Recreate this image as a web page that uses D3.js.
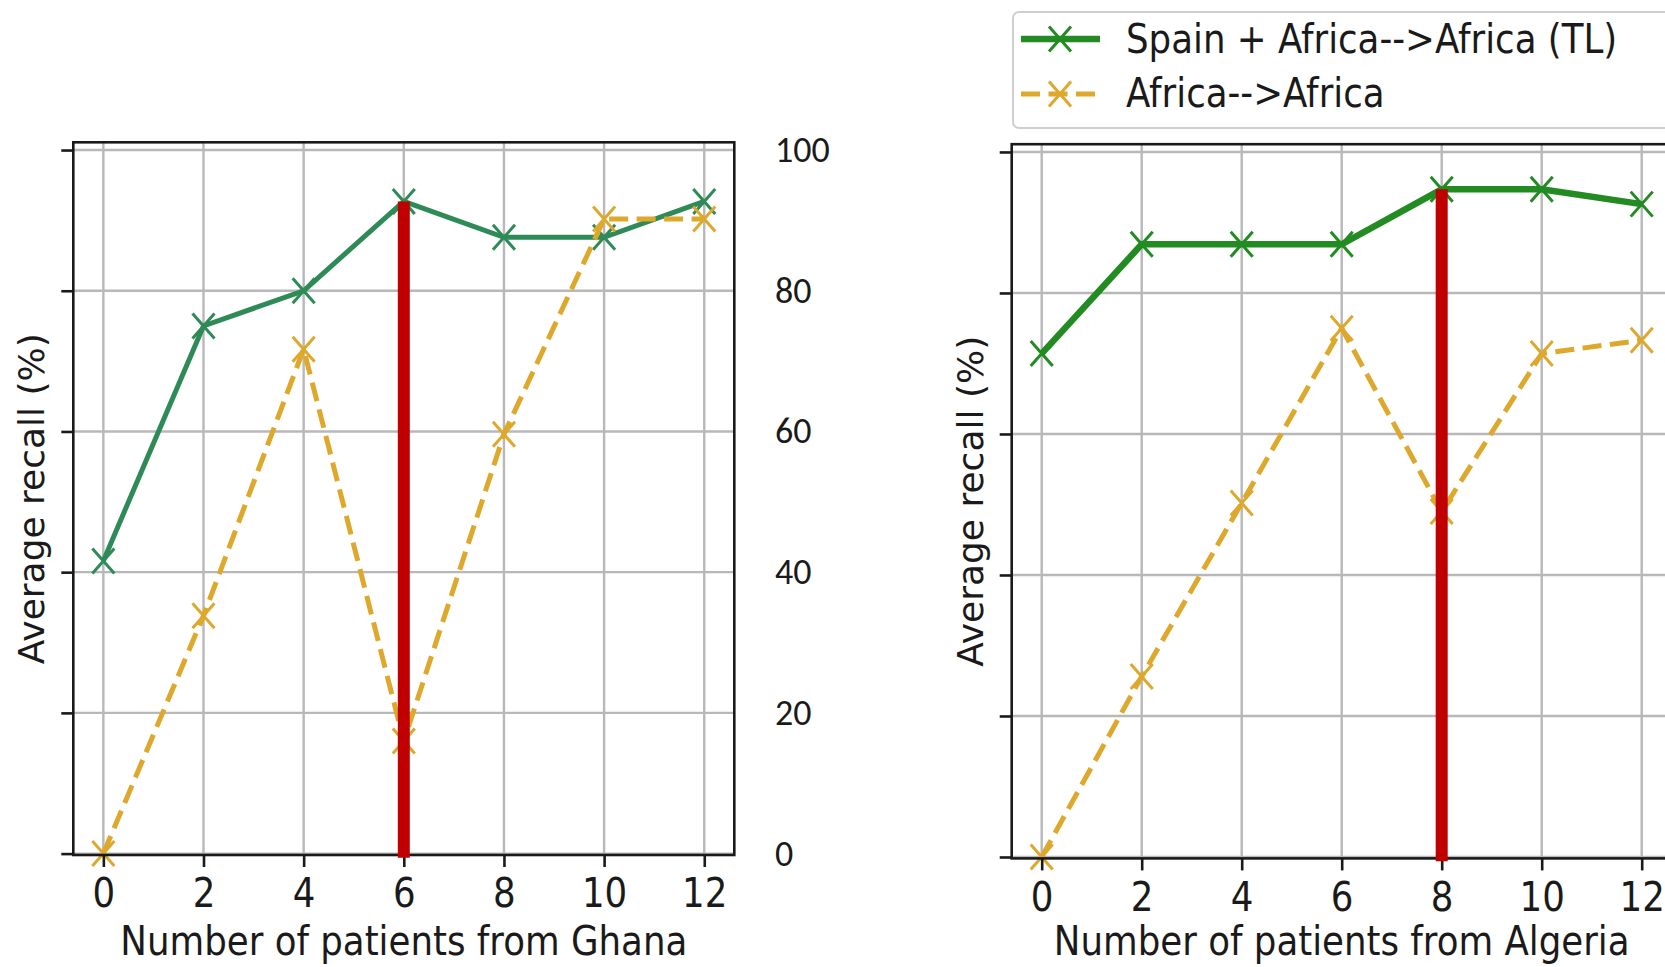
<!DOCTYPE html>
<html>
<head>
<meta charset="utf-8">
<script src="https://cdn.jsdelivr.net/npm/d3@7"></script>
<style>
body { margin: 0; background: #fff; }
svg { display: block; }
text { font-family: "DejaVu Sans", sans-serif; fill: #1a1a1a; }
</style>
</head>
<body>
<div id="chart-area"></div>
<script>
var width = 1665;
var height = 967;

// data
var patients = [0, 2, 4, 6, 8, 10, 12];
var xTicks = [0, 2, 4, 6, 8, 10, 12];
var yTicks = [0, 20, 40, 60, 80, 100];
var yTickLabels = ["0", "20", "40", "60", "80", "100"];
var seriesNames = ["Spain + Africa-->Africa (TL)", "Africa-->Africa"];

var ghanaTL = [41.6, 75.0, 80.0, 92.7, 87.6, 87.6, 92.7];
var ghanaAfrica = [0, 33.8, 71.7, 16.0, 59.6, 90.2, 90.2];
var algeriaTL = [71.4, 86.9, 86.9, 86.9, 94.7, 94.7, 92.6];
var algeriaAfrica = [0, 25.6, 50.2, 75.0, 49.0, 71.4, 73.3];

var xLabels = ["Number of patients from Ghana", "Number of patients from Algeria"];
var yLabel = "Average recall (%)";
var markedX = [6, 8];

var orange = "#dea82c";
var red = "#c00000";
// the figure's text is a bit narrower than plain DejaVu Sans
var squeeze = "scale(0.89,1)";

var panels = [
    {tl: ghanaTL, af: ghanaAfrica, xLabel: xLabels[0], mark: markedX[0],
     xRange: [73.3, 734.3], yRange: [855, 142.3], tlColor: "#2e8b57", tlWidth: 5, yLabelX: 44},
    {tl: algeriaTL, af: algeriaAfrica, xLabel: xLabels[1], mark: markedX[1],
     xRange: [1011.7, 1671.7], yRange: [858.4, 144.2], tlColor: "#228b22", tlWidth: 6.5, yLabelX: 983}
];

var svg = d3.select("#chart-area").append("svg")
    .attr("width", width)
    .attr("height", height);

svg.append("rect").attr("width", width).attr("height", height).attr("fill", "#fff");

var xMarker = "M-11,-12.5L11,12.5M-11,12.5L11,-12.5";
var scales = [];

panels.forEach(function(p) {
    var x = d3.scaleLinear().domain([-0.6, 12.6]).range(p.xRange);
    var y = d3.scaleLinear().domain([-0.2, 101.1]).range(p.yRange);
    scales.push(y);
    var g = svg.append("g");

    // grid
    g.selectAll(".vgrid").data(xTicks).enter().append("line")
        .attr("x1", (d) => x(d)).attr("x2", (d) => x(d))
        .attr("y1", p.yRange[0]).attr("y2", p.yRange[1])
        .attr("stroke", "#b8b8b8").attr("stroke-width", 2.4);
    g.selectAll(".hgrid").data(yTicks).enter().append("line")
        .attr("x1", p.xRange[0]).attr("x2", p.xRange[1])
        .attr("y1", (d) => y(d)).attr("y2", (d) => y(d))
        .attr("stroke", "#b8b8b8").attr("stroke-width", 2.4);

    var line = d3.line()
        .x((d, i) => x(patients[i]))
        .y((d) => y(d));

    g.append("path").datum(p.tl)
        .attr("d", line)
        .attr("fill", "none")
        .attr("stroke", p.tlColor)
        .attr("stroke-width", p.tlWidth);
    g.selectAll(".tlm").data(p.tl).enter().append("path")
        .attr("d", xMarker)
        .attr("transform", (d, i) => "translate(" + x(patients[i]) + "," + y(d) + ")")
        .attr("stroke", p.tlColor).attr("stroke-width", 3).attr("fill", "none");

    g.append("path").datum(p.af)
        .attr("d", line)
        .attr("fill", "none")
        .attr("stroke", orange)
        .attr("stroke-width", 5)
        .attr("stroke-dasharray", "19,8.5");
    g.selectAll(".afm").data(p.af).enter().append("path")
        .attr("d", xMarker)
        .attr("transform", (d, i) => "translate(" + x(patients[i]) + "," + y(d) + ")")
        .attr("stroke", orange).attr("stroke-width", 3).attr("fill", "none");

    // frame
    g.append("rect")
        .attr("x", p.xRange[0]).attr("y", p.yRange[1])
        .attr("width", p.xRange[1] - p.xRange[0])
        .attr("height", p.yRange[0] - p.yRange[1])
        .attr("fill", "none").attr("stroke", "#1a1a1a").attr("stroke-width", 2.6);

    var xAxis = g.append("g")
        .attr("transform", "translate(0," + p.yRange[0] + ")")
        .call(d3.axisBottom(x).tickValues(xTicks).tickSize(12).tickPadding(12));
    var yAxis = g.append("g")
        .attr("transform", "translate(" + p.xRange[0] + ",0)")
        .call(d3.axisLeft(y).tickValues(yTicks).tickSize(12).tickFormat(""));
    [xAxis, yAxis].forEach(function(a) {
        a.select(".domain").remove();
        a.selectAll(".tick line").attr("stroke", "#1a1a1a").attr("stroke-width", 2.6);
        a.selectAll(".tick text")
            .attr("font-family", "DejaVu Sans")
            .attr("font-size", 40)
            .attr("fill", "#1a1a1a")
            .attr("transform", squeeze);
    });

    // highlighted number of patients
    var markIdx = patients.indexOf(p.mark);
    g.append("line")
        .attr("x1", x(p.mark)).attr("x2", x(p.mark))
        .attr("y1", y(p.tl[markIdx])).attr("y2", y(-0.6))
        .attr("stroke", red).attr("stroke-width", 12);

    g.append("text")
        .attr("transform", "translate(" + ((p.xRange[0] + p.xRange[1]) / 2) + ",955) " + squeeze)
        .attr("font-size", 40)
        .attr("text-anchor", "middle")
        .text(p.xLabel);

    g.append("text")
        .attr("transform", "translate(" + p.yLabelX + "," + ((p.yRange[0] + p.yRange[1]) / 2) + ") rotate(-90)")
        .attr("font-size", 36)
        .attr("text-anchor", "middle")
        .text(yLabel);
});

// y tick labels standing between the two panels
svg.selectAll(".ylab").data(yTicks).enter().append("text")
    .attr("x", 775)
    .attr("y", (d) => scales[0](d) + 12)
    .style("font-family", "Carlito, Lato, 'Open Sans', sans-serif")
    .attr("font-size", 36)
    .attr("fill", "#000")
    .text((d, i) => yTickLabels[i]);

// legend
var legend = svg.append("g");
legend.append("rect")
    .attr("x", 1013).attr("y", 12)
    .attr("width", 720).attr("height", 116)
    .attr("rx", 6)
    .attr("fill", "#fff")
    .attr("stroke", "#cfcfcf").attr("stroke-width", 2);

var legendItems = [
    {name: seriesNames[0], color: panels[1].tlColor, width: panels[1].tlWidth, dash: null, y: 39, base: 53},
    {name: seriesNames[1], color: orange, width: 5, dash: "19,8.5", y: 94, base: 107}
];
legendItems.forEach(function(d) {
    legend.append("line")
        .attr("x1", 1021).attr("x2", 1100)
        .attr("y1", d.y).attr("y2", d.y)
        .attr("stroke", d.color).attr("stroke-width", d.width)
        .attr("stroke-dasharray", d.dash);
    legend.append("path")
        .attr("d", xMarker)
        .attr("transform", "translate(1060," + d.y + ")")
        .attr("stroke", d.color).attr("stroke-width", 3).attr("fill", "none");
    legend.append("text")
        .attr("transform", "translate(1126," + d.base + ") " + squeeze)
        .attr("font-size", 40)
        .text(d.name);
});
</script>
</body>
</html>
